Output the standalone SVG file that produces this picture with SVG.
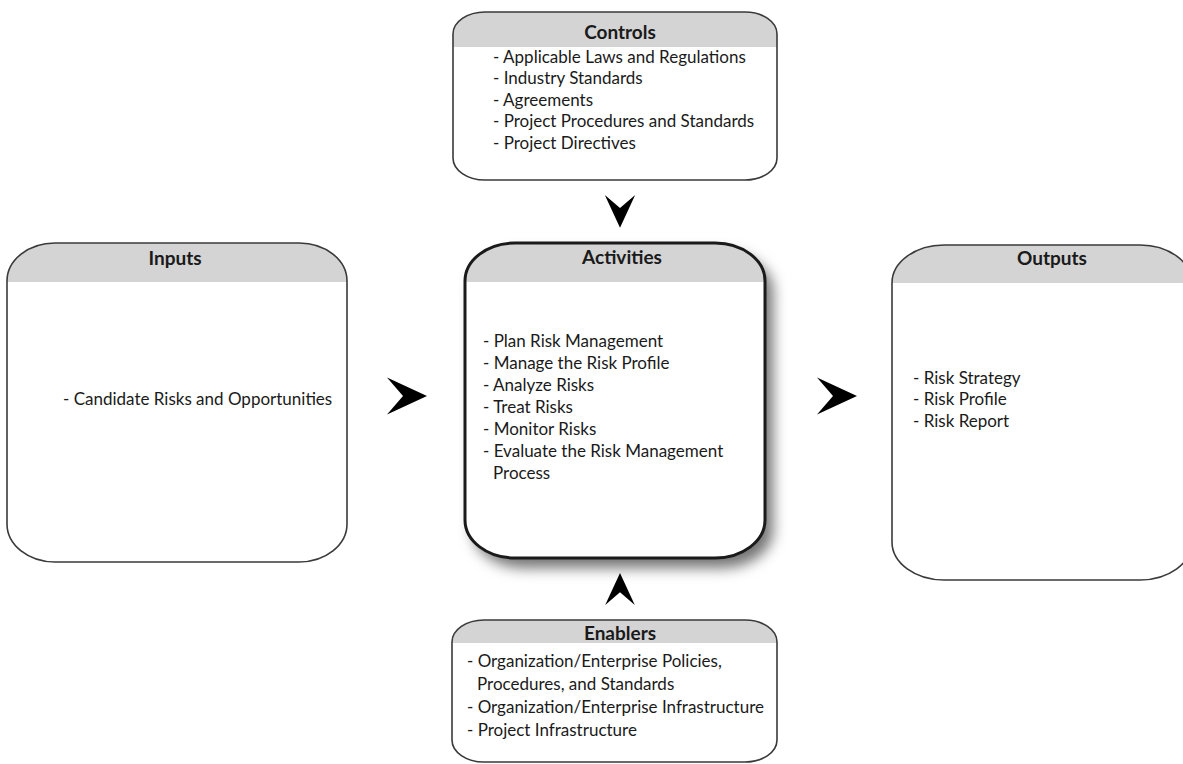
<svg xmlns="http://www.w3.org/2000/svg" width="1183" height="764" viewBox="0 0 1183 764">
<style>
.bg{fill:#ffffff}
.hd{fill:#d4d4d4}
.ol{fill:none;stroke:#3a3a3a;stroke-width:1.6}
.olb{fill:none;stroke:#1a1a1a;stroke-width:3}
.t{font-family:Lato,"Open Sans","Liberation Sans",sans-serif;font-size:17px;fill:#1a1a1a}
.h{font-family:Lato,"Open Sans","Liberation Sans",sans-serif;font-size:19px;font-weight:bold;fill:#1a1a1a;text-anchor:middle}
.arr{fill:#000000}
</style>
<defs>
<filter id="sh" x="-20%" y="-20%" width="150%" height="150%">
<feDropShadow dx="8" dy="10" stdDeviation="7" flood-color="#000" flood-opacity="0.55"/>
</filter>
<path id="chev" d="M0,-18.5 L40,0 L0,18.5 L16,0 Z"/>
</defs>

<g id="connectors">
<use href="#chev" class="arr" transform="translate(387,396)"/>
<use href="#chev" class="arr" transform="translate(817,396)"/>
<use href="#chev" class="arr" transform="translate(620,195) rotate(90) scale(0.82)"/>
<use href="#chev" class="arr" transform="translate(620,605) rotate(-90) scale(0.8)"/>
</g>

<g id="controls">
<path class="bg" d="M485,12 H745 A32 22 0 0 1 777,34 V158 A32 22 0 0 1 745,180 H485 A32 22 0 0 1 453,158 V34 A32 22 0 0 1 485,12 Z"/>
<path class="hd" d="M453,47 V34 A32 22 0 0 1 485,12 H745 A32 22 0 0 1 777,34 V47 Z"/>
<path class="ol" d="M485,12 H745 A32 22 0 0 1 777,34 V158 A32 22 0 0 1 745,180 H485 A32 22 0 0 1 453,158 V34 A32 22 0 0 1 485,12 Z"/>
<text class="h" x="620" y="39">Controls</text>
<text class="t" x="493" y="63">- Applicable Laws and Regulations</text>
<text class="t" x="493" y="84">- Industry Standards</text>
<text class="t" x="493" y="106">- Agreements</text>
<text class="t" x="493" y="127">- Project Procedures and Standards</text>
<text class="t" x="493" y="149">- Project Directives</text>
</g>

<g id="inputs">
<path class="bg" d="M55,243 H299 A48 38 0 0 1 347,281 V524 A48 38 0 0 1 299,562 H55 A48 38 0 0 1 7,524 V281 A48 38 0 0 1 55,243 Z"/>
<path class="hd" d="M7,282 V281 A48 38 0 0 1 55,243 H299 A48 38 0 0 1 347,281 V282 Z"/>
<path class="ol" d="M55,243 H299 A48 38 0 0 1 347,281 V524 A48 38 0 0 1 299,562 H55 A48 38 0 0 1 7,524 V281 A48 38 0 0 1 55,243 Z"/>
<text class="h" x="175" y="265">Inputs</text>
<text class="t" x="63" y="405">- Candidate Risks and Opportunities</text>
</g>

<g id="activities">
<path class="bg" filter="url(#sh)" d="M515,243 H715 A50 38 0 0 1 765,281 V520 A50 38 0 0 1 715,558 H515 A50 38 0 0 1 465,520 V281 A50 38 0 0 1 515,243 Z"/>
<path class="hd" d="M465,282 V281 A50 38 0 0 1 515,243 H715 A50 38 0 0 1 765,281 V282 Z"/>
<path class="olb" d="M515,243 H715 A50 38 0 0 1 765,281 V520 A50 38 0 0 1 715,558 H515 A50 38 0 0 1 465,520 V281 A50 38 0 0 1 515,243 Z"/>
<text class="h" x="622" y="264">Activities</text>
<text class="t" x="483" y="347">- Plan Risk Management</text>
<text class="t" x="483" y="369">- Manage the Risk Profile</text>
<text class="t" x="483" y="391">- Analyze Risks</text>
<text class="t" x="483" y="413">- Treat Risks</text>
<text class="t" x="483" y="435">- Monitor Risks</text>
<text class="t" x="483" y="457">- Evaluate the Risk Management</text>
<text class="t" x="493" y="479">Process</text>
</g>

<g id="outputs">
<path class="bg" d="M944,245 H1140 A52 38 0 0 1 1192,283 V542 A52 38 0 0 1 1140,580 H944 A52 38 0 0 1 892,542 V283 A52 38 0 0 1 944,245 Z"/>
<path class="hd" d="M892,283 A52 38 0 0 1 944,245 H1140 A52 38 0 0 1 1192,283 Z"/>
<path class="ol" d="M944,245 H1140 A52 38 0 0 1 1192,283 V542 A52 38 0 0 1 1140,580 H944 A52 38 0 0 1 892,542 V283 A52 38 0 0 1 944,245 Z"/>
<text class="h" x="1052" y="265">Outputs</text>
<text class="t" x="913" y="384">- Risk Strategy</text>
<text class="t" x="913" y="405">- Risk Profile</text>
<text class="t" x="913" y="427">- Risk Report</text>
</g>

<g id="enablers">
<path class="bg" d="M484,620 H745 A32 22 0 0 1 777,642 V740 A32 22 0 0 1 745,762 H484 A32 22 0 0 1 452,740 V642 A32 22 0 0 1 484,620 Z"/>
<path class="hd" d="M452,643 V642 A32 22 0 0 1 484,620 H745 A32 22 0 0 1 777,642 V643 Z"/>
<path class="ol" d="M484,620 H745 A32 22 0 0 1 777,642 V740 A32 22 0 0 1 745,762 H484 A32 22 0 0 1 452,740 V642 A32 22 0 0 1 484,620 Z"/>
<text class="h" x="620" y="640">Enablers</text>
<text class="t" x="467" y="667">- Organization/Enterprise Policies,</text>
<text class="t" x="477" y="690">Procedures, and Standards</text>
<text class="t" x="467" y="713">- Organization/Enterprise Infrastructure</text>
<text class="t" x="467" y="736">- Project Infrastructure</text>
</g>
</svg>
